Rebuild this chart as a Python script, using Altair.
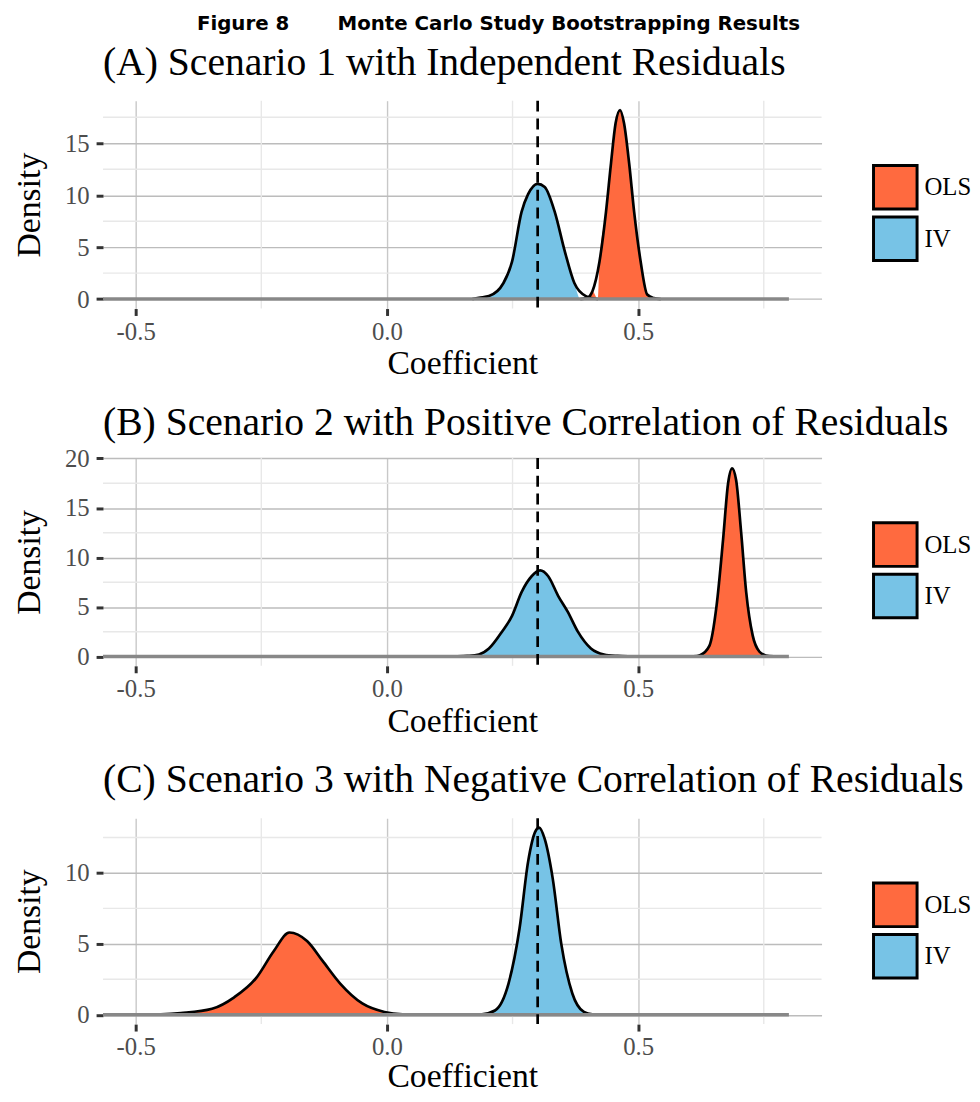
import altair as alt
import pandas as pd

# ---------------- data ----------------
estimators = ["OLS", "IV"]
colors = ["#FF6A3F", "#77C3E6"]

x_domain = [-0.565, 0.865]
x_ticks = [-0.5, 0.0, 0.5]
x_minor = [-0.25, 0.25, 0.75]
true_value = [0.3]
baseline_start = [-0.565]
baseline_end = [0.8]

# Panel A
a_title = "(A) Scenario 1 with Independent Residuals"
a_ols_x = [0.385, 0.398, 0.409, 0.423, 0.436, 0.446, 0.455, 0.464, 0.472, 0.482, 0.492, 0.505, 0.518, 0.531, 0.545]
a_ols_y = [0.0, 0.1, 0.76, 3.6, 8.4, 13.1, 16.9, 18.2, 16.9, 13.1, 8.4, 3.6, 0.44, 0.1, 0.0]
a_iv_x = [0.17, 0.183, 0.203, 0.232, 0.249, 0.268, 0.281, 0.300, 0.314, 0.334, 0.354, 0.373, 0.396, 0.42]
a_iv_y = [0.0, 0.13, 0.29, 1.55, 3.6, 8.4, 10.1, 11.1, 10.8, 8.4, 4.6, 1.55, 0.29, 0.0]
a_y_domain = [-0.91, 19.1]
a_y_ticks = [0, 5, 10, 15]
a_y_minor = [2.5, 7.5, 12.5, 17.5]

# Panel B
b_title = "(B) Scenario 2 with Positive Correlation of Residuals"
b_ols_x = [0.61, 0.623, 0.642, 0.656, 0.669, 0.679, 0.687, 0.695, 0.705, 0.715, 0.728, 0.741, 0.754, 0.77]
b_ols_y = [0.0, 0.13, 1.1, 5.1, 11.8, 17.5, 19.0, 17.8, 12.5, 6.5, 2.1, 0.5, 0.1, 0.0]
b_iv_x = [0.14, 0.16, 0.183, 0.203, 0.229, 0.249, 0.268, 0.288, 0.305, 0.321, 0.341, 0.360, 0.380, 0.406, 0.432, 0.459, 0.48]
b_iv_y = [0.0, 0.05, 0.2, 0.8, 2.5, 4.1, 6.5, 8.1, 8.7, 8.1, 6.1, 4.5, 2.5, 0.8, 0.2, 0.05, 0.0]
b_y_domain = [-0.95, 20.05]
b_y_ticks = [0, 5, 10, 15, 20]
b_y_minor = [2.5, 7.5, 12.5, 17.5]

# Panel C
c_title = "(C) Scenario 3 with Negative Correlation of Residuals"
c_ols_x = [-0.498, -0.45, -0.41, -0.348, -0.304, -0.26, -0.225, -0.194, -0.159, -0.128, -0.093, -0.049, -0.005, 0.031, 0.08]
c_ols_y = [0.0, 0.03, 0.12, 0.42, 1.23, 2.6, 4.5, 5.8, 5.2, 3.8, 2.2, 0.8, 0.2, 0.03, 0.0]
c_iv_x = [0.17, 0.189, 0.215, 0.242, 0.264, 0.281, 0.295, 0.303, 0.314, 0.330, 0.347, 0.369, 0.392, 0.409, 0.43]
c_iv_y = [0.0, 0.03, 0.3, 2.2, 6.1, 10.8, 12.9, 13.2, 12.4, 9.6, 5.0, 1.5, 0.2, 0.03, 0.0]
c_y_domain = [-0.66, 13.86]
c_y_ticks = [0, 5, 10]
c_y_minor = [2.5, 7.5, 12.5]

fig_title = "Figure 8" + "\u00a0" * 7 + "Monte Carlo Study Bootstrapping Results"

SERIF = "Liberation Serif"
PLOT_W = 726

X_LABEL_EXPR = "datum.value < 0 ? '-' + format(-datum.value, '.1f') : format(datum.value, '.1f')"


def panel(title, ols_x, ols_y, iv_x, iv_y, y_domain, y_ticks, y_minor, height,
          title_offset, x_title_pad):
    dens = pd.DataFrame({
        "estimator": ["OLS"] * len(ols_x) + ["IV"] * len(iv_x),
        "x": list(ols_x) + list(iv_x),
        "y": list(ols_y) + list(iv_y),
    })
    xscale = alt.Scale(domain=x_domain, nice=False, zero=False)
    yscale = alt.Scale(domain=y_domain, nice=False, zero=False)
    xaxis = alt.Axis(values=x_ticks, labelExpr=X_LABEL_EXPR, title="Coefficient",
                     grid=True, gridColor="#c8c8c8", gridWidth=1.4,
                     domain=False, tickColor="#333333", tickWidth=3, tickSize=7,
                     labelFont=SERIF, labelFontSize=25, labelColor="#4d4d4d",
                     labelPadding=4, titleFont=SERIF, titleFontSize=34,
                     titleFontWeight="normal", titleColor="black",
                     titlePadding=x_title_pad)
    yaxis = alt.Axis(values=y_ticks, format="d", title="Density",
                     grid=True, gridColor="#bcbcbc", gridWidth=1.4,
                     domain=False, tickColor="#333333", tickWidth=3, tickSize=7,
                     labelFont=SERIF, labelFontSize=25, labelColor="#4d4d4d",
                     labelPadding=7, titleFont=SERIF, titleFontSize=34,
                     titleFontWeight="normal", titleColor="black", titlePadding=18)
    X = alt.X("x:Q", scale=xscale, axis=xaxis)
    Y = alt.Y("y:Q", scale=yscale, axis=yaxis)

    vminor = alt.Chart(pd.DataFrame({"x": x_minor})).mark_rule(
        color="#e8e8e8", strokeWidth=1.4).encode(x=X)
    hminor = alt.Chart(pd.DataFrame({"y": y_minor})).mark_rule(
        color="#e8e8e8", strokeWidth=1.4).encode(y=Y)

    fill = alt.Fill("estimator:N",
                    scale=alt.Scale(domain=estimators, range=colors),
                    legend=alt.Legend(title=None, orient="none", legendX=777, legendY=64,
                                      symbolType="square", symbolSize=1936,
                                      symbolStrokeColor="black", symbolStrokeWidth=3,
                                      symbolOpacity=1, padding=0, rowPadding=-9,
                                      labelFont=SERIF, labelFontSize=25,
                                      labelColor="black", labelOffset=6))
    area = alt.Chart(dens).mark_area(interpolate="monotone", opacity=1).encode(
        x=X, y=Y, fill=fill, detail="estimator:N")
    line = alt.Chart(dens).mark_line(interpolate="monotone", color="black",
                                     strokeWidth=2.7).encode(
        x=X, y=Y, detail="estimator:N")
    base = alt.Chart(pd.DataFrame({"x": baseline_start, "x2": baseline_end, "y": [0]})).mark_rule(
        color="#888888", strokeWidth=3.5).encode(x=X, x2="x2:Q", y=Y)
    dash = alt.Chart(pd.DataFrame({"x": true_value})).mark_rule(
        color="black", strokeWidth=2.7, strokeDash=[11, 7]).encode(x=X)

    return alt.layer(vminor, hminor, area, line, base, dash).properties(
        width=PLOT_W, height=height,
        title=alt.TitleParams(title, font=SERIF, fontSize=40, fontWeight="normal",
                              color="black", anchor="start", frame="group",
                              offset=title_offset),
    )


pA = panel(a_title, a_ols_x, a_ols_y, a_iv_x, a_iv_y, a_y_domain, a_y_ticks, a_y_minor, 210, 17, 3)
pB = panel(b_title, b_ols_x, b_ols_y, b_iv_x, b_iv_y, b_y_domain, b_y_ticks, b_y_minor, 210, 4, 3)
pC = panel(c_title, c_ols_x, c_ols_y, c_iv_x, c_iv_y, c_y_domain, c_y_ticks, c_y_minor, 208, 17, 0)

chart = alt.vconcat(pA, pB, pC, spacing=22).resolve_scale(
    x="independent", y="independent", fill="independent"
).resolve_legend(fill="independent").properties(
    title=alt.TitleParams(fig_title, font="DejaVu Sans", fontSize=20, fontWeight="bold",
                          color="black", anchor="middle", offset=5, dx=6, dy=-4),
    padding={"left": 5, "top": 0, "right": 0, "bottom": 0},
    background="white",
).configure_view(stroke=None)

chart.save("out.html", embed_options={"renderer": "svg", "actions": False})
